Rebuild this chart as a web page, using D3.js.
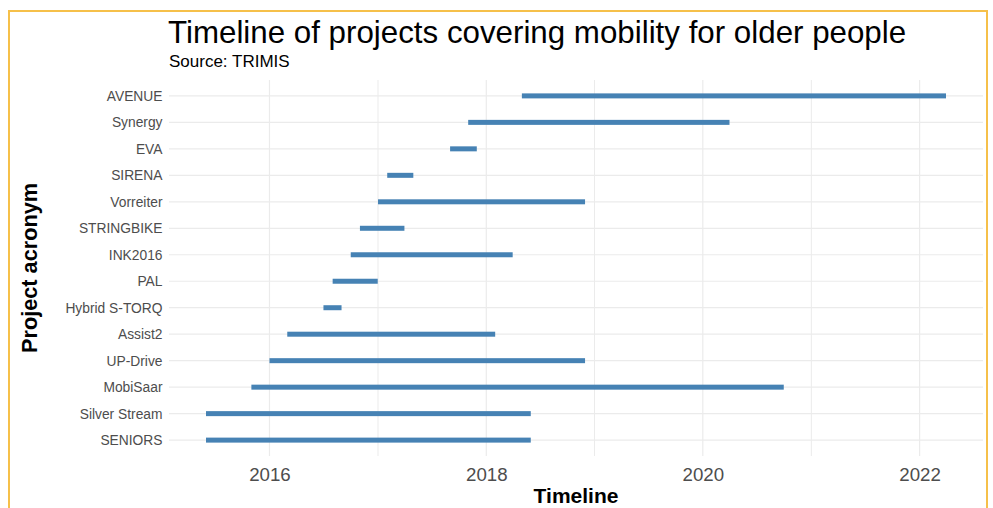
<!DOCTYPE html>
<html>
<head>
<meta charset="utf-8">
<script src="https://cdnjs.cloudflare.com/ajax/libs/d3/7.8.5/d3.min.js"></script>
<style>
    body { margin: 0; background: #fff; }
    svg { display: block; font-family: "Liberation Sans", Arial, sans-serif; }
</style>
</head>
<body>
<div id="TimelineGraph"></div>
<script>

// projects, listed top to bottom
var projects = ['AVENUE', 'Synergy', 'EVA', 'SIRENA', 'Vorreiter', 'STRINGBIKE', 'INK2016',
    'PAL', 'Hybrid S-TORQ', 'Assist2', 'UP-Drive', 'MobiSaar', 'Silver Stream', 'SENIORS'];
var startDates = ['2018-05-01', '2017-11-01', '2017-09-01', '2017-02-01', '2017-01-01', '2016-11-01', '2016-10-01',
    '2016-08-01', '2016-07-01', '2016-03-01', '2016-01-01', '2015-11-01', '2015-06-01', '2015-06-01'];
var endDates = ['2022-03-31', '2020-03-31', '2017-11-30', '2017-04-30', '2018-11-30', '2017-03-31', '2018-03-31',
    '2016-12-31', '2016-08-31', '2018-01-31', '2018-11-30', '2020-09-30', '2018-05-31', '2018-05-31'];
var majorYears = [2016, 2018, 2020, 2022];
var minorYears = [2015, 2017, 2019, 2021, 2023];

var title = 'Timeline of projects covering mobility for older people';
var subtitle = 'Source: TRIMIS';

$ready();

function $ready() {
    var data = projects.map((p, i) => ({
        name: p,
        start: new Date(startDates[i] + 'T00:00:00Z'),
        end: new Date(endDates[i] + 'T00:00:00Z')
    }));
    loadTimelineGraph('#TimelineGraph', data);
}

function loadTimelineGraph(element, data) {

    var width = 993;
    var height = 508;
    var margin = ({ top: 80, right: 10, bottom: 52, left: 169 });
    var panelRight = 983;
    var panelBottom = height - margin.bottom;

    var lo = d3.min(data, d => d.start).getTime();
    var hi = d3.max(data, d => d.end).getTime();
    var pad = (hi - lo) * 0.05;

    var x = d3.scaleUtc()
        .domain([new Date(lo - pad), new Date(hi + pad)])
        .range([margin.left, panelRight]);
    var y = d3.scalePoint()
        .domain(projects)
        .range([margin.top, panelBottom])
        .padding(0.6);

    var yearDate = yr => new Date(Date.UTC(yr, 0, 1));
    var inside = yr => x(yearDate(yr)) >= margin.left && x(yearDate(yr)) <= panelRight;

    var svg = d3.select(element)
        .append('svg')
        .attr('width', width)
        .attr('height', height);

    // frame
    svg.append('rect')
        .attr('x', 9).attr('y', 11)
        .attr('width', 978).attr('height', 520)
        .attr('fill', 'none')
        .attr('stroke', '#F6C04A')
        .attr('stroke-width', 2);

    var grid = svg.append('g').attr('stroke', '#EBEBEB');

    grid.selectAll('line.minor').data(minorYears.filter(inside)).enter().append('line')
        .attr('class', 'minor')
        .attr('x1', d => x(yearDate(d))).attr('x2', d => x(yearDate(d)))
        .attr('y1', margin.top).attr('y2', panelBottom)
        .attr('stroke-width', 1);

    grid.selectAll('line.major').data(majorYears).enter().append('line')
        .attr('class', 'major')
        .attr('x1', d => x(yearDate(d))).attr('x2', d => x(yearDate(d)))
        .attr('y1', margin.top).attr('y2', panelBottom)
        .attr('stroke-width', 1.2);

    grid.selectAll('line.row').data(projects).enter().append('line')
        .attr('class', 'row')
        .attr('x1', margin.left).attr('x2', panelRight)
        .attr('y1', d => y(d)).attr('y2', d => y(d))
        .attr('stroke-width', 1.2);

    svg.append('g')
        .attr('fill', 'steelblue')
        .selectAll('rect').data(data).enter().append('rect')
        .attr('x', d => x(d.start))
        .attr('y', d => y(d.name) - 2.5)
        .attr('width', d => x(d.end) - x(d.start))
        .attr('height', 5);

    var yAxis = g => g
        .attr('transform', `translate(${margin.left},0)`)
        .call(d3.axisLeft(y).tickSize(0).tickPadding(6.5))
        .call(g => g.select('.domain').remove())
        .call(g => g.selectAll('text')
            .attr('fill', '#4D4D4D')
            .style('font-size', '13.8px')
            .style('font-family', '"Liberation Sans", Arial, sans-serif'));

    var xAxis = g => g
        .attr('transform', `translate(0,${panelBottom})`)
        .call(d3.axisBottom(x)
            .tickValues(majorYears.map(yearDate))
            .tickFormat(d3.utcFormat('%Y'))
            .tickSize(0).tickPadding(12))
        .call(g => g.select('.domain').remove())
        .call(g => g.selectAll('text')
            .attr('fill', '#4D4D4D')
            .style('font-size', '18.7px')
            .style('font-family', '"Liberation Sans", Arial, sans-serif'));

    svg.append('g').call(xAxis);
    svg.append('g').call(yAxis);

    svg.append('text')
        .attr('x', 168).attr('y', 43)
        .attr('font-size', 31.3)
        .attr('fill', '#000')
        .text(title);

    svg.append('text')
        .attr('x', 169).attr('y', 67)
        .attr('font-size', 17)
        .attr('fill', '#000')
        .text(subtitle);

    svg.append('text')
        .attr('x', (margin.left + panelRight) / 2).attr('y', 503)
        .attr('text-anchor', 'middle')
        .attr('font-size', 21)
        .attr('font-weight', 'bold')
        .text('Timeline');

    svg.append('text')
        .attr('transform', `translate(37,${(margin.top + panelBottom) / 2}) rotate(-90)`)
        .attr('text-anchor', 'middle')
        .attr('font-size', 21.7)
        .attr('font-weight', 'bold')
        .text('Project acronym');

    svg.node();
}
</script>
</body>
</html>
